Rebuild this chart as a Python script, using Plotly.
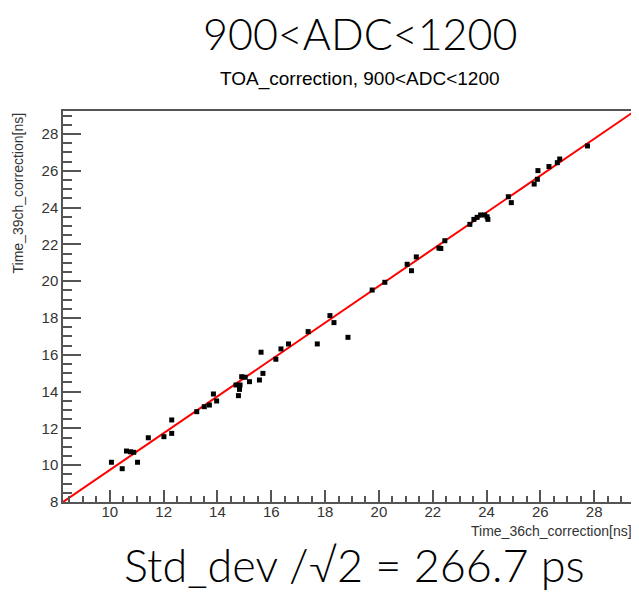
import plotly.graph_objects as go

# Data
x_vals = [10.06, 10.46, 10.62, 10.77, 10.89, 11.03, 11.43, 12.01, 12.30, 12.30,
          13.23, 13.51, 13.70, 13.97, 13.85, 14.69, 14.84, 14.82, 14.78, 14.90,
          15.03, 15.19, 15.56, 15.69, 15.62, 16.17, 16.36, 16.64, 17.37, 17.71,
          18.18, 18.33, 18.85, 19.75, 20.22, 21.05, 21.21, 21.39, 22.23, 22.30,
          22.45, 23.38, 23.53, 23.65, 23.78, 23.93, 24.05, 24.02, 24.81, 24.92,
          25.77, 25.89, 25.91, 26.32, 26.63, 26.72, 27.75]
y_vals = [10.16, 9.81, 10.77, 10.73, 10.70, 10.16, 11.49, 11.55, 11.73, 12.46,
          12.91, 13.18, 13.27, 13.49, 13.87, 14.36, 14.36, 14.12, 13.78, 14.81,
          14.78, 14.54, 14.63, 14.99, 16.14, 15.76, 16.32, 16.59, 17.26, 16.59,
          18.13, 17.75, 16.95, 19.52, 19.94, 20.92, 20.57, 21.32, 21.80, 21.78,
          22.20, 23.09, 23.36, 23.47, 23.60, 23.60, 23.36, 23.50, 24.59, 24.27,
          25.28, 25.54, 26.01, 26.23, 26.44, 26.64, 27.35]

# Linear fit parameters (pol1)
fit_intercept = -0.26
fit_slope = 1.0
x_range = [8.26, 29.48]
y_range = [8.0, 29.25]
fit_x = [8.26, 29.48]
fit_y = [fit_intercept + fit_slope * v for v in fit_x]

x_ticks = [10, 12, 14, 16, 18, 20, 22, 24, 26, 28]
y_ticks = [8, 10, 12, 14, 16, 18, 20, 22, 24, 26, 28]

title_main = "900<ADC<1200"
title_sub = "TOA_correction, 900<ADC<1200"
x_title = "Time_36ch_correction[ns]"
y_title = "Time_39ch_correction[ns]"
footer = "Std_dev /\u221a2 = 266.7 ps"

fig = go.Figure()
fig.add_trace(go.Scatter(
    x=fit_x, y=fit_y, mode="lines",
    line=dict(color="#ff0000", width=2), hoverinfo="skip", showlegend=False,
))
fig.add_trace(go.Scatter(
    x=x_vals, y=y_vals, mode="markers",
    marker=dict(symbol="square", size=5, color="black"),
    showlegend=False,
))

axis_common = dict(
    showgrid=False, zeroline=False,
    showline=True, linecolor="#555555", linewidth=1.5, mirror=True,
    ticks="inside", tickcolor="#555555", tickwidth=1.5,
    tickfont=dict(family="Liberation Sans, Arial", size=15, color="#333333"),
)

fig.update_layout(
    width=631, height=584,
    margin=dict(l=55, r=3, t=103, b=90),
    paper_bgcolor="white", plot_bgcolor="white",
    xaxis=dict(range=x_range, tickvals=x_ticks, ticklen=12,
               ticklabelstandoff=-5,
               minor=dict(dtick=0.5, tick0=0, ticks="inside", ticklen=6,
                          tickcolor="#555555", tickwidth=1.5),
               **axis_common),
    yaxis=dict(range=y_range, tickvals=y_ticks, ticklen=18,
               minor=dict(dtick=0.5, tick0=0, ticks="inside", ticklen=9,
                          tickcolor="#555555", tickwidth=1.5),
               **axis_common),
    annotations=[
        dict(text=title_main, xref="paper", yref="paper", x=0.52, y=1.0,
             yshift=78, xanchor="center", yanchor="middle", showarrow=False,
             font=dict(family="Lato", size=43, color="black", weight=300)),
        dict(text=title_sub, xref="paper", yref="paper", x=0.52, y=1.0,
             yshift=32, xanchor="center", yanchor="middle", showarrow=False,
             font=dict(family="Liberation Sans, Arial", size=19, color="black")),
        dict(text=x_title, xref="paper", yref="paper", x=1.0, y=0.0,
             yshift=-29, xanchor="right", yanchor="middle", showarrow=False,
             font=dict(family="Liberation Sans, Arial", size=14, color="#333333")),
        dict(text=y_title, xref="paper", yref="paper", x=0.0, y=1.0,
             xshift=-46, xanchor="center", yanchor="top", showarrow=False,
             textangle=-90,
             font=dict(family="Liberation Sans, Arial", size=14, color="#333333")),
        dict(text=footer, xref="paper", yref="paper", x=0.51, y=0.0,
             yshift=-63, xanchor="center", yanchor="middle", showarrow=False,
             font=dict(family="Lato", size=45, color="black", weight=300)),
    ],
)

fig.write_html("out.html")
